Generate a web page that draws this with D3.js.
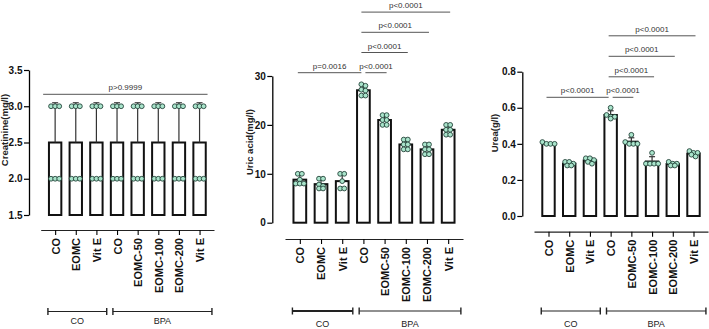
<!DOCTYPE html>
<html lang="en">

<head>
    <meta charset="UTF-8">
    <script src="https://d3js.org/d3.v7.min.js"></script>
    <title>Creatinine, uric acid, urea</title>
    <style>
        body { margin: 0; background: white; }
        text { font-family: "Liberation Sans", Arial, sans-serif; }
    </style>
</head>

<body>
    <div id="chart"></div>
    <script>
        // Data
        const categories = ["CO", "EOMC", "Vit E", "CO", "EOMC-50", "EOMC-100", "EOMC-200", "Vit E"];
        const groups = [
            { label: "CO", from: 0, to: 2 },
            { label: "BPA", from: 3, to: 7 }
        ];

        const creatinine = [
            [3, 3, 3, 2, 2, 2],
            [3, 3, 3, 2, 2, 2],
            [3, 3, 3, 2, 2, 2],
            [3, 3, 3, 2, 2, 2],
            [3, 3, 3, 2, 2, 2],
            [3, 3, 3, 2, 2, 2],
            [3, 3, 3, 2, 2, 2],
            [3, 3, 3, 2, 2, 2]
        ];
        const uricAcid = [
            [10, 10, 8.8, 8, 8, 8],
            [9, 9, 7.8, 7.5, 7, 7],
            [10, 10, 8.5, 7, 7],
            [28.3, 28, 27.2, 27, 26, 26],
            [22, 22, 21, 21, 20, 20],
            [17, 17, 16, 16, 15, 15],
            [16, 16, 15, 15, 14, 14],
            [20, 20, 19, 19, 18, 18]
        ];
        const urea = [
            [0.41, 0.40, 0.40, 0.40],
            [0.30, 0.30, 0.29, 0.28, 0.28],
            [0.32, 0.32, 0.31, 0.30, 0.29],
            [0.60, 0.56, 0.55, 0.55, 0.54],
            [0.45, 0.41, 0.40, 0.40, 0.40],
            [0.35, 0.29, 0.29, 0.29, 0.29],
            [0.30, 0.29, 0.29, 0.28, 0.28],
            [0.36, 0.35, 0.35, 0.34, 0.33]
        ];

        const creatinineTicks = [1.5, 2.0, 2.5, 3.0, 3.5];
        const uricTicks = [0, 10, 20, 30];
        const ureaTicks = [0.0, 0.2, 0.4, 0.6, 0.8];

        // comparisons: [from bar, to bar, label, level]
        const creatinineStats = [[0, 7, "p>0.9999", 0]];
        const uricStats = [
            [0, 3, "p=0.0016", 0],
            [3, 4, "p<0.0001", 0],
            [3, 5, "p<0.0001", 1],
            [3, 6, "p<0.0001", 2],
            [3, 7, "p<0.0001", 3]
        ];
        const ureaStats = [
            [0, 3, "p<0.0001", 0],
            [3, 4, "p<0.0001", 0],
            [3, 5, "p<0.0001", 1],
            [3, 6, "p<0.0001", 2],
            [3, 7, "p<0.0001", 3]
        ];

        const width = 709;
        const height = 329;

        const svg = d3.select("#chart")
            .append("svg")
            .attr("width", width)
            .attr("height", height);

        svg.append("rect")
            .attr("width", width)
            .attr("height", height)
            .attr("fill", "white");

        const dotFill = "#a9e4cb";
        const dotStroke = "#24443a";
        const r = 2.4;

        const panels = [
            {
                data: creatinine, ticks: creatinineTicks, fmt: d3.format(".1f"), title: "Creatinine(mg/l)",
                stats: creatinineStats, yAxisX: 29, yRange: [215, 70], xRange: [40.7, 214], xAxisY: 230,
                base: 1.5, statY: 94.3, statStep: 20, statPad: [12, 8], titleX: 7.5, titleY: 130,
                bracketY: 311.5, groupLabelY: 324, boldCO: false
            },
            {
                data: uricAcid, ticks: uricTicks, fmt: d3.format("d"), title: "Uric acid(mg/l)",
                stats: uricStats, yAxisX: 272.3, yRange: [222.7, 76], xRange: [285, 463], xAxisY: 239,
                base: 0, statY: 72.7, statStep: 20.2, statPad: [2, 2], titleX: 253, titleY: 142,
                bracketY: 311, groupLabelY: 327, boldCO: true
            },
            {
                data: urea, ticks: ureaTicks, fmt: d3.format(".1f"), title: "Urea(g/l)",
                stats: ureaStats, yAxisX: 522.3, yRange: [216, 71.7], xRange: [534, 708], xAxisY: 231.7,
                base: 0, statY: 97.3, statStep: 20.5, statPad: [2, 2], titleX: 497.5, titleY: 133,
                bracketY: 311, groupLabelY: 327, boldCO: false
            }
        ];

        // spread dots in rows, centred on the bar
        function layoutDots(values, y) {
            const pts = values.map(v => ({ v, py: y(v) })).sort((a, b) => a.py - b.py);
            const rows = [];
            pts.forEach(p => {
                const row = rows.find(rw => Math.abs(rw[0].py - p.py) < r * 1.1);
                if (row) row.push(p); else rows.push([p]);
            });
            const gap = r * 2 * 0.85;
            rows.forEach(row => row.forEach((p, i) => { p.dx = (i - (row.length - 1) / 2) * gap; }));
            return pts;
        }

        panels.forEach(p => {
            const g = svg.append("g");
            const lo = p.ticks[0], hi = p.ticks[p.ticks.length - 1];

            const x = d3.scalePoint()
                .domain(d3.range(categories.length))
                .range(p.xRange)
                .padding(0.7);
            const step = x.step();
            const y = d3.scaleLinear().domain([lo, hi]).range(p.yRange);

            // Y axis
            const yAxis = g.append("g")
                .attr("transform", `translate(${p.yAxisX},0)`)
                .call(d3.axisLeft(y).tickValues(p.ticks).tickFormat(p.fmt).tickSize(5).tickSizeOuter(0).tickPadding(1.5));
            yAxis.select(".domain").attr("stroke-width", 1.3);
            yAxis.selectAll(".tick line").attr("stroke-width", 1.2);
            yAxis.selectAll("text")
                .attr("font-size", 10)
                .attr("font-weight", "bold")
                .attr("fill", "#111")
                .attr("font-family", "Liberation Sans, Arial, sans-serif");

            // Y title
            g.append("text")
                .attr("transform", `translate(${p.titleX},${p.titleY}) rotate(-90)`)
                .attr("text-anchor", "middle")
                .attr("font-size", 9.5)
                .attr("font-weight", "bold")
                .attr("fill", "#222")
                .text(p.title);

            // X axis
            const xAxis = g.append("g")
                .attr("transform", `translate(0,${p.xAxisY})`)
                .call(d3.axisBottom(x).tickFormat(i => categories[i]).tickSize(5).tickSizeOuter(0).tickPadding(3));
            xAxis.select(".domain").attr("stroke-width", 1.2).attr("stroke", "#222");
            xAxis.selectAll(".tick line").attr("stroke-width", 1.1);
            xAxis.selectAll("text")
                .attr("transform", "rotate(-90)")
                .attr("text-anchor", "end")
                .attr("x", -8)
                .attr("y", 0)
                .attr("dy", "0.36em")
                .attr("font-size", 11)
                .attr("font-weight", "bold")
                .attr("fill", "#111")
                .attr("font-family", "Liberation Sans, Arial, sans-serif");

            const stats = p.data.map(vals => ({
                mean: d3.mean(vals),
                sd: d3.deviation(vals) || 0
            }));
            const bw = step * 0.6;

            // Bars
            g.selectAll("rect.bar")
                .data(stats)
                .join("rect")
                .attr("class", "bar")
                .attr("x", (d, i) => x(i) - bw / 2)
                .attr("y", d => y(d.mean))
                .attr("width", bw)
                .attr("height", d => y(p.base) - y(d.mean))
                .attr("fill", "white")
                .attr("stroke", "#111")
                .attr("stroke-width", 2);

            // Error bars (upper)
            stats.forEach((d, i) => {
                const top = y(d.mean + d.sd);
                g.append("line")
                    .attr("x1", x(i)).attr("x2", x(i))
                    .attr("y1", y(d.mean)).attr("y2", top)
                    .attr("stroke", "#333").attr("stroke-width", 1.2);
                g.append("line")
                    .attr("x1", x(i) - 3).attr("x2", x(i) + 3)
                    .attr("y1", top).attr("y2", top)
                    .attr("stroke", "#333").attr("stroke-width", 1.2);
            });

            // Dots
            p.data.forEach((vals, i) => {
                g.selectAll(null)
                    .data(layoutDots(vals, y))
                    .join("circle")
                    .attr("cx", d => x(i) + d.dx)
                    .attr("cy", d => d.py)
                    .attr("r", r)
                    .attr("fill", dotFill)
                    .attr("stroke", dotStroke)
                    .attr("stroke-width", 0.9);
            });

            // Significance lines
            p.stats.forEach(([a, b, label, level]) => {
                const ly = p.statY - level * p.statStep;
                let x1 = x(a) - p.statPad[0];
                let x2 = x(b) + p.statPad[1];
                const shared = p.stats.filter(s => s[3] === level);
                if (shared.some(s => s[1] === a)) x1 += 4;
                if (shared.some(s => s[0] === b)) x2 -= 4;
                g.append("line")
                    .attr("x1", x1).attr("x2", x2)
                    .attr("y1", ly).attr("y2", ly)
                    .attr("stroke", "#555").attr("stroke-width", 1);
                g.append("text")
                    .attr("x", (x1 + x2) / 2)
                    .attr("y", ly - 4)
                    .attr("text-anchor", "middle")
                    .attr("font-size", 8)
                    .attr("fill", "#333")
                    .text(label);
            });

            // Group brackets
            groups.forEach(gr => {
                const isCO = gr.label === "CO";
                const x1 = x(gr.from) - step * (isCO ? 0.35 : 0.2);
                const x2 = x(gr.to) + step * (isCO ? 0.5 : 0.6);
                const sw = isCO && p.boldCO ? 2 : 1.2;
                const b = g.append("g").attr("stroke", "#222");
                b.append("line").attr("x1", x1).attr("x2", x2)
                    .attr("y1", p.bracketY).attr("y2", p.bracketY).attr("stroke-width", sw);
                [x1, x2].forEach(xx => b.append("line")
                    .attr("x1", xx).attr("x2", xx)
                    .attr("y1", p.bracketY - 3.5).attr("y2", p.bracketY + 3.5)
                    .attr("stroke-width", 1.4));
                g.append("text")
                    .attr("x", (x1 + x2) / 2)
                    .attr("y", p.groupLabelY)
                    .attr("text-anchor", "middle")
                    .attr("font-size", 9)
                    .attr("fill", "#222")
                    .text(gr.label);
            });
        });
    </script>
</body>

</html>
